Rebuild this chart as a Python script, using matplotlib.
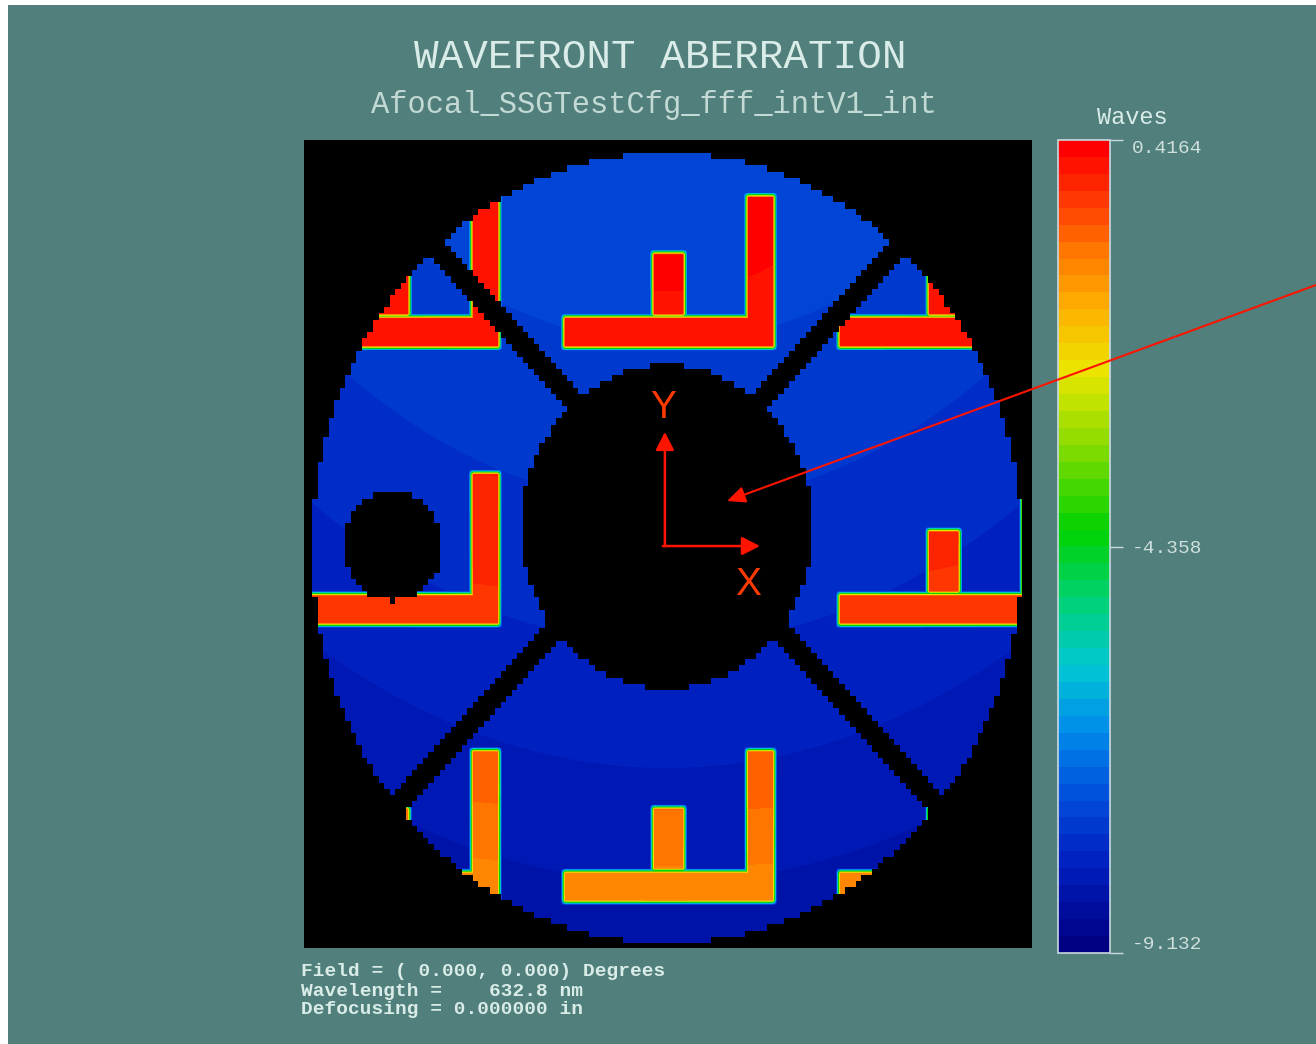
import numpy as np
import matplotlib
matplotlib.use("Agg")
import matplotlib.pyplot as plt
from matplotlib.colors import LinearSegmentedColormap
from matplotlib.patches import Rectangle, ConnectionPatch

# ---------------- scale ----------------
W_MIN = -9.132
W_MID = -4.358
W_MAX = 0.4164
CBAR_TICKS = [W_MIN, W_MID, W_MAX]
CBAR_LABELS = ["-9.132", "-4.358", "0.4164"]

# colour scale stops (fraction of range, RGB)
CMAP_POS = [0.0, 0.10, 0.19, 0.27, 0.35, 0.43, 0.52, 0.63, 0.72, 0.80, 0.87, 0.93, 1.0]
CMAP_RGB = [(0, 0, 130), (0, 30, 190), (0, 80, 220), (0, 140, 235), (0, 200, 210),
            (0, 210, 120), (0, 210, 0), (140, 220, 0), (235, 230, 0), (255, 175, 0),
            (255, 120, 0), (255, 60, 0), (255, 0, 0)]
CMAP_LEVELS = 48

# ---------------- pupil geometry (normalised pupil coordinates) ----------------
SAMPLES = 128
PUPIL_RADIUS = 1.0
OBSCURATION_CENTER = (0.0, 0.053)
OBSCURATION_RADIUS = 0.41
HOLE_CENTER = (-0.772, 0.005)
HOLE_RADIUS = 0.138
SPIDER_CENTER = (0.0, 0.11)
SPIDER_HALF_WIDTH = 0.025
SPIDER_ANGLES_DEG = [45.0, 135.0]

# raised pattern, one cell: (u0, u1, v0, v1)
BAR_H = (-0.293, 0.304, 0.506, 0.587)
BAR_V = (0.223, 0.304, 0.506, 0.894)
STEM = (-0.042, 0.051, 0.587, 0.749)
CELL_COLS = [-1, 0, 1]
CELL_ROWS = [0, 1, 2]
CELL_PITCH_U = 0.775
CELL_PITCH_V = 0.702
EDGE_WIDTH = 0.012

# wavefront terms: piston, y tilt, v^2, u^2 (waves)
SUBSTRATE_COEFFS = (-7.80, 0.55, -0.10, -0.20)
RAISED_COEFFS = (-0.08, 0.75, -0.45, -0.10)

# map window in pupil coordinates
U_LIM = (-1.0225, 1.028)
V_LIM = (-1.0127, 1.033)

BG = "#507f7c"
TXT = "#d9ece7"

# ---------------- wavefront field ----------------
nx, ny = 728, 808
u = U_LIM[0] + (np.arange(nx) + 0.5) * (U_LIM[1] - U_LIM[0]) / nx
v = V_LIM[0] + (np.arange(ny) + 0.5) * (V_LIM[1] - V_LIM[0]) / ny
U, V = np.meshgrid(u, v)

cell = 2.0 * PUPIL_RADIUS / SAMPLES
Uq = (np.floor((U + PUPIL_RADIUS) / cell) + 0.5) * cell - PUPIL_RADIUS
Vq = (np.floor((V + PUPIL_RADIUS) / cell) + 0.5) * cell - PUPIL_RADIUS

mask = Uq ** 2 + Vq ** 2 <= PUPIL_RADIUS ** 2
mask &= (Uq - OBSCURATION_CENTER[0]) ** 2 + (Vq - OBSCURATION_CENTER[1]) ** 2 > OBSCURATION_RADIUS ** 2
mask &= (Uq - HOLE_CENTER[0]) ** 2 + (Vq - HOLE_CENTER[1]) ** 2 > HOLE_RADIUS ** 2
for ang in SPIDER_ANGLES_DEG:
    t = np.deg2rad(ang)
    dist = np.abs((Uq - SPIDER_CENTER[0]) * np.sin(t) - (Vq - SPIDER_CENTER[1]) * np.cos(t))
    mask &= dist > SPIDER_HALF_WIDTH


def ramp(x):
    return np.clip(x / EDGE_WIDTH + 0.5, 0.0, 1.0)


raised = np.zeros_like(U)
for k in CELL_COLS:
    for j in CELL_ROWS:
        du, dv = k * CELL_PITCH_U, -j * CELL_PITCH_V
        for (u0, u1, v0, v1) in (BAR_H, BAR_V, STEM):
            m = ramp(U - (u0 + du)) * ramp((u1 + du) - U) * ramp(V - (v0 + dv)) * ramp((v1 + dv) - V)
            raised = np.maximum(raised, m)


def surface(c):
    return c[0] + c[1] * V + c[2] * V ** 2 + c[3] * U ** 2


W = (1.0 - raised) * surface(SUBSTRATE_COEFFS) + raised * surface(RAISED_COEFFS)
W = np.where(mask, W, np.nan)

cmap = LinearSegmentedColormap.from_list(
    "waves", [(p, tuple(c / 255 for c in rgb)) for p, rgb in zip(CMAP_POS, CMAP_RGB)], N=CMAP_LEVELS)
cmap.set_bad("black")

# ---------------- figure ----------------
fig = plt.figure(figsize=(13.16, 10.44), dpi=100, facecolor=BG)
fig.patches.append(Rectangle((0, 0), 8 / 1316, 1, transform=fig.transFigure,
                             facecolor="white", edgecolor="none", zorder=-10))
fig.patches.append(Rectangle((0, 1 - 5 / 1044), 1, 5 / 1044, transform=fig.transFigure,
                             facecolor="white", edgecolor="none", zorder=-10))

ax = fig.add_axes([304 / 1316, 1 - 948 / 1044, 728 / 1316, 808 / 1044])
ax.set_facecolor("black")
im = ax.imshow(W, extent=(U_LIM[0], U_LIM[1], V_LIM[0], V_LIM[1]), origin="lower",
               cmap=cmap, vmin=W_MIN, vmax=W_MAX, interpolation="nearest", aspect="auto")
ax.set_xlim(*U_LIM)
ax.set_ylim(*V_LIM)
ax.set_xticks([])
ax.set_yticks([])
for s in ax.spines.values():
    s.set_visible(False)

# pupil axes marker
RED = "#ff1400"
head = dict(arrowstyle="-|>,head_length=0.55,head_width=0.28", color=RED, lw=1.8,
            shrinkA=0, shrinkB=0, mutation_scale=20)
ax.annotate("", xy=(-0.006, 0.294), xytext=(-0.006, 0.005), arrowprops=head)
ax.annotate("", xy=(0.262, 0.005), xytext=(-0.012, 0.005), arrowprops=head)
ax.text(-0.011, 0.354, "Y", color="#ff3a00", fontsize=28, family="Liberation Sans",
        ha="center", va="center")
ax.text(0.228, -0.094, "X", color="#ff3a00", fontsize=28, family="Liberation Sans",
        ha="center", va="center")

# colour bar
cax = fig.add_axes([1058 / 1316, 1 - 953 / 1044, 52 / 1316, 813 / 1044])
cb = fig.colorbar(im, cax=cax, ticks=CBAR_TICKS)
cb.outline.set_edgecolor("#c9d9e2")
cb.outline.set_linewidth(1.2)
cax.set_yticklabels(CBAR_LABELS)
cax.tick_params(axis="y", length=9, width=1, color="#c9d9e2", pad=7,
                labelcolor="#cfe0dc", labelsize=14)
for lab in cax.get_yticklabels():
    lab.set_family("Liberation Mono")
labs = cax.get_yticklabels()
labs[0].set_verticalalignment("bottom")
labs[-1].set_verticalalignment("top")
fig.text(1132 / 1316, 1 - 118 / 1044, "Waves", color=TXT, fontsize=17,
         family="Liberation Mono", ha="center", va="center")

# pointer from the right margin into the obscured centre, drawn above everything
pointer = ConnectionPatch(xyA=(1.0, 1 - 285 / 1044), coordsA="figure fraction",
                          xyB=(0.169, 0.119), coordsB=ax.transData,
                          arrowstyle="-|>,head_length=0.55,head_width=0.25",
                          color=RED, lw=1.5, shrinkA=0, shrinkB=0, mutation_scale=20)
pointer.set_zorder(10)
fig.add_artist(pointer)

# titles
fig.text(660 / 1316, 1 - 57 / 1044, "WAVEFRONT ABERRATION", color=TXT, fontsize=29.5,
         family="Liberation Mono", ha="center", va="center")
fig.text(654 / 1316, 1 - 105 / 1044, "Afocal_SSGTestCfg_fff_intV1_int", color="#c3dad4",
         fontsize=22, family="Liberation Mono", ha="center", va="center")

# run information
INFO_LINES = ["Field = ( 0.000, 0.000) Degrees",
              "Wavelength =    632.8 nm",
              "Defocusing = 0.000000 in"]
for i, line in enumerate(INFO_LINES):
    fig.text(301 / 1316, 1 - (972 + 19 * i) / 1044, line, color=TXT, fontsize=14,
             family="Liberation Mono", fontweight="bold", ha="left", va="center")

fig.savefig("out.png", dpi=100, facecolor=fig.get_facecolor())
